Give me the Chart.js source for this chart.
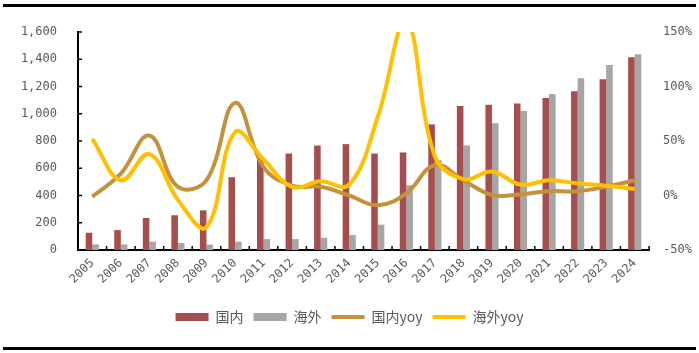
<!DOCTYPE html>
<html>
<head>
<meta charset="utf-8">
<script src="https://cdn.jsdelivr.net/npm/chart.js@4/dist/chart.umd.min.js"></script>
<style>
  html, body { margin: 0; padding: 0; background: #fff; }
  #wrap { width: 699px; height: 353px; position: relative; }
</style>
</head>
<body>
<div id="wrap"><canvas id="c"></canvas></div>
<script>
const years = ['2005','2006','2007','2008','2009','2010','2011','2012','2013','2014',
               '2015','2016','2017','2018','2019','2020','2021','2022','2023','2024'];

// 国内 / 海外 (left axis)
const domestic = [127, 146, 235, 255, 291, 534, 665, 708, 767, 777,
                  708, 716, 922, 1057, 1066, 1076, 1115, 1165, 1253, 1415];
const overseas = [41, 41, 61, 51, 40, 61, 80, 80, 90, 110,
                  186, 475, 660, 767, 931, 1020, 1145, 1260, 1358, 1437];

// yoy, % (right axis)
const domesticYoy = [-1, 20, 55, 8, 14, 85, 26, 9, 8, 0,
                     -9, 2, 28, 14, 0.5, 1, 4, 4, 8, 14];
const overseasYoy = [52, 14, 38, -4, -29, 58, 33, 8, 13, 10,
                     72, 160, 36, 15, 22, 10, 14, 11, 9, 6];

const leftTicks = [0, 200, 400, 600, 800, 1000, 1200, 1400, 1600];
const rightTicks = [-50, 0, 50, 100, 150];

const RED = '#A64E4E', GRAY = '#A6A6A6', BROWN = '#C5913B', GOLD = '#FFC000';
const labelColor = '#595959';
const monoFont = { family: 'DejaVu Sans Mono', size: 12 };

// frame lines and small inside tick marks
const decor = {
  id: 'decor',
  afterDraw(chart) {
    const ctx = chart.ctx;
    const a = chart.chartArea;
    ctx.save();
    ctx.fillStyle = '#000';
    ctx.fillRect(3, 4, 693, 3);
    ctx.fillRect(3, 347, 693, 3);
    ctx.strokeStyle = '#000';
    ctx.lineWidth = 1.5;
    const y = chart.scales.y;
    y.ticks.forEach(t => {
      const py = y.getPixelForValue(t.value);
      ctx.beginPath();
      ctx.moveTo(a.left, py);
      ctx.lineTo(a.left + 4, py);
      ctx.stroke();
    });
    const w = (a.right - a.left) / years.length;
    for (let i = 1; i <= years.length; i++) {
      const px = a.left + i * w;
      ctx.beginPath();
      ctx.moveTo(px, a.bottom);
      ctx.lineTo(px, a.bottom - 4);
      ctx.stroke();
    }
    ctx.restore();
  }
};

new Chart(document.getElementById('c'), {
  type: 'bar',
  data: {
    labels: years,
    datasets: [
      { label: '国内', data: domestic, backgroundColor: RED, yAxisID: 'y', order: 2,
        categoryPercentage: 0.46, barPercentage: 1.0 },
      { label: '海外', data: overseas, backgroundColor: GRAY, yAxisID: 'y', order: 3,
        categoryPercentage: 0.46, barPercentage: 1.0 },
      { label: '国内yoy', type: 'line', data: domesticYoy, borderColor: BROWN, backgroundColor: BROWN,
        borderWidth: 4, pointRadius: 0, tension: 0.4, yAxisID: 'y1', order: 1 },
      { label: '海外yoy', type: 'line', data: overseasYoy, borderColor: GOLD, backgroundColor: GOLD,
        borderWidth: 4, pointRadius: 0, tension: 0.4, yAxisID: 'y1', order: 0 }
    ]
  },
  options: {
    responsive: true,
    maintainAspectRatio: false,
    animation: false,
    layout: { padding: { top: 32, left: 0, right: 0, bottom: 19 } },
    plugins: {
      tooltip: { enabled: false },
      legend: {
        position: 'bottom',
        labels: {
          usePointStyle: true,
          pointStyleWidth: 33,
          boxHeight: 8,
          padding: 10,
          color: labelColor,
          font: { family: 'Noto Sans CJK SC', size: 14 },
          generateLabels(chart) {
            return chart.data.datasets.map((ds, i) => ({
              text: ds.label,
              fillStyle: ds.type === 'line' ? ds.borderColor : ds.backgroundColor,
              strokeStyle: ds.type === 'line' ? ds.borderColor : ds.backgroundColor,
              lineWidth: ds.type === 'line' ? 4 : 0,
              pointStyle: ds.type === 'line' ? 'line' : 'rect',
              fontColor: labelColor,
              datasetIndex: i,
              hidden: false
            }));
          }
        }
      }
    },
    scales: {
      x: {
        grid: { display: false, drawTicks: false },
        border: { color: '#000', width: 2 },
        ticks: { color: labelColor, font: monoFont, minRotation: 45, maxRotation: 45, padding: 6 },
        afterFit(s) { s.height = 50; }
      },
      y: {
        position: 'left',
        min: 0, max: 1600,
        grid: { display: false, drawTicks: false },
        border: { color: '#000', width: 2 },
        afterBuildTicks(s) { s.ticks = leftTicks.map(v => ({ value: v })); },
        ticks: {
          color: labelColor, font: monoFont, padding: 21,
          callback: v => v.toLocaleString('en-US')
        },
        afterFit(s) { s.width = 78; }
      },
      y1: {
        position: 'right',
        min: -50, max: 150,
        grid: { display: false, drawTicks: false },
        border: { display: false },
        afterBuildTicks(s) { s.ticks = rightTicks.map(v => ({ value: v })); },
        ticks: { color: labelColor, font: monoFont, padding: 14, callback: v => v + '%' },
        afterFit(s) { s.width = 50; }
      }
    }
  },
  plugins: [decor]
});
</script>
</body>
</html>
